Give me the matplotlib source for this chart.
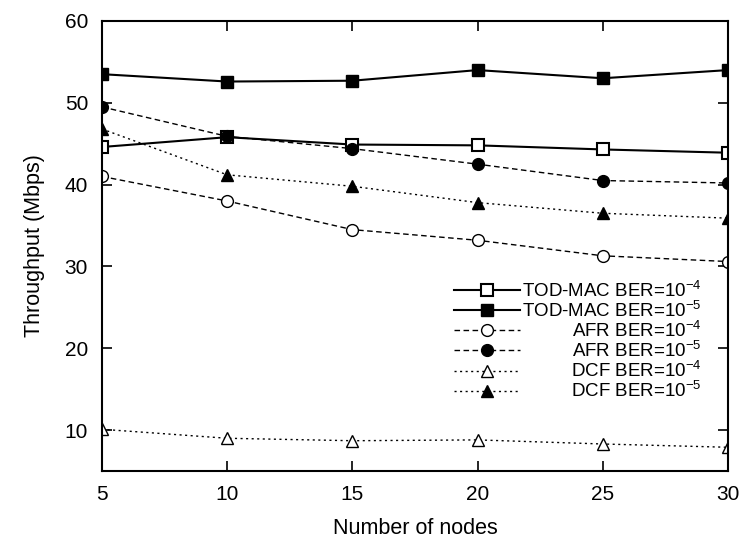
import matplotlib
matplotlib.use('Agg')
import matplotlib.pyplot as plt

plt.rcParams['font.family'] = ['Liberation Sans', 'DejaVu Sans']
plt.rcParams['mathtext.fontset'] = 'custom'
plt.rcParams['mathtext.rm'] = 'Liberation Sans'
plt.rcParams['mathtext.default'] = 'regular'

# datos
nodos = [5, 10, 15, 20, 25, 30]
tod_ber4 = [44.6, 45.8, 44.9, 44.8, 44.3, 43.9]
tod_ber5 = [53.5, 52.6, 52.7, 54.0, 53.0, 54.0]
afr_ber4 = [41.0, 38.0, 34.5, 33.2, 31.3, 30.6]
afr_ber5 = [49.5, 45.9, 44.4, 42.5, 40.5, 40.2]
dcf_ber4 = [10.1, 9.0, 8.7, 8.8, 8.3, 7.9]
dcf_ber5 = [46.8, 41.2, 39.8, 37.8, 36.5, 35.9]

etiquetas = ['TOD-MAC BER=$10^{-4}$', 'TOD-MAC BER=$10^{-5}$',
             'AFR BER=$10^{-4}$', 'AFR BER=$10^{-5}$',
             'DCF BER=$10^{-4}$', 'DCF BER=$10^{-5}$']

fig = plt.figure(figsize=(7.47, 5.41), dpi=100)
ax = fig.add_axes([0.1365, 0.1294, 0.838, 0.8318])

ax.plot(nodos, tod_ber4, color='black', lw=1.5, marker='s', ms=9,
        mfc='white', mec='black', mew=1.5, label=etiquetas[0])
ax.plot(nodos, tod_ber5, color='black', lw=1.5, marker='s', ms=9,
        mfc='black', mec='black', label=etiquetas[1])
ax.plot(nodos, afr_ber4, color='black', lw=1.0, dashes=(4, 2.5), marker='o', ms=8.5,
        mfc='white', mec='black', mew=1.0, label=etiquetas[2])
ax.plot(nodos, afr_ber5, color='black', lw=1.0, dashes=(4, 2.5), marker='o', ms=8.5,
        mfc='black', mec='black', label=etiquetas[3])
ax.plot(nodos, dcf_ber4, color='black', lw=1.0, dashes=(1.5, 2.5), marker='^', ms=8,
        mfc='white', mec='black', mew=1.0, label=etiquetas[4])
ax.plot(nodos, dcf_ber5, color='black', lw=1.0, dashes=(1.5, 2.5), marker='^', ms=8,
        mfc='black', mec='black', label=etiquetas[5])

ax.set_xlim(5, 30)
ax.set_ylim(5, 60)
ax.set_xticks(nodos)
ax.set_yticks([10, 20, 30, 40, 50, 60])
ax.tick_params(direction='in', top=True, right=True, length=7, width=1.2,
               labelsize=15, pad=10)
for s in ax.spines.values():
    s.set_linewidth(1.5)
ax.set_xlabel('Number of nodes', fontsize=15.5, labelpad=10)
ax.set_ylabel('Throughput (Mbps)', fontsize=15.5, labelpad=14)

fs_leg = 13.5
leg = ax.legend(loc='lower right', bbox_to_anchor=(0.958, 0.155), frameon=False,
                fontsize=fs_leg, handlelength=3.5, handletextpad=0.1,
                labelspacing=0.0, borderpad=0, borderaxespad=0)

# alinear los textos de la leyenda a la derecha
fig.canvas.draw()
renderer = fig.canvas.get_renderer()
anchos = [t.get_window_extent(renderer).width for t in leg.get_texts()]
maxw = max(anchos)
dpicor = renderer.points_to_pixels(1.)
filas = []
for col in leg._legend_handle_box.get_children():
    filas.extend(col.get_children())
for fila, w in zip(filas, anchos):
    fila.sep = 0.1 * fs_leg + (maxw - w) / dpicor

fig.savefig('out.png', dpi=100)
